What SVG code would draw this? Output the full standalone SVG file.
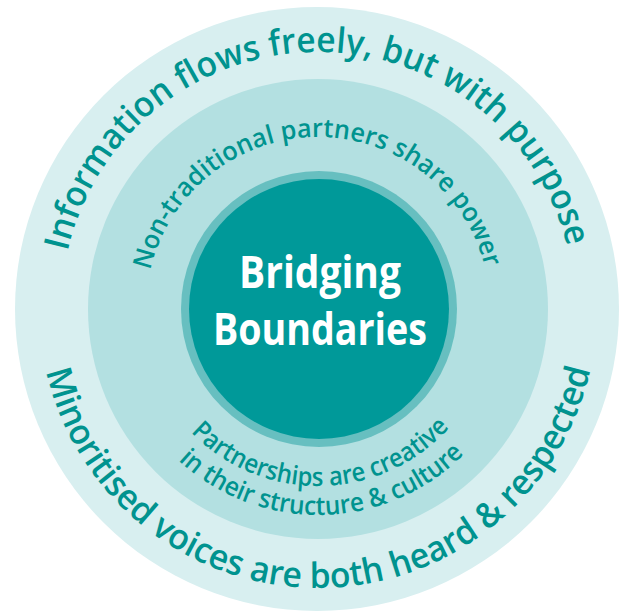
<svg xmlns="http://www.w3.org/2000/svg" width="619" height="612" viewBox="0 0 619 612">
  <style>
    .arc { font-family: "Open Sans", "Noto Sans", sans-serif; font-weight: 600; fill: #00938f; }
    .outer { font-size: 35px; }
    .mid { font-size: 26px; }
    .center { font-family: "Open Sans", "Noto Sans", sans-serif; font-weight: 700; font-size: 45px; fill: #ffffff; text-anchor: middle; }
  </style>
  <defs>
    <path id="pTopOuter" d="M 61 309 A 257 257 0 0 1 575 309" fill="none"/>
    <path id="pTopMid" d="M 146 309 A 172 172 0 0 1 490 309" fill="none"/>
    <path id="pBotOuter" d="M 39 309 A 279 279 0 0 0 597 309" fill="none"/>
    <path id="pBotMid1" d="M 141 309 A 177 177 0 0 0 495 309" fill="none"/>
    <path id="pBotMid2" d="M 112 309 A 206 206 0 0 0 524 309" fill="none"/>
  </defs>
  <g id="outer-ring">
    <circle cx="317" cy="309" r="302" fill="#d8eff0"/>
  </g>
  <g id="middle-ring">
    <circle cx="318" cy="309" r="230" fill="#b3e0e1"/>
  </g>
  <g id="core">
    <circle cx="319" cy="309" r="138" fill="#67bfc0"/>
    <circle cx="319" cy="309" r="130" fill="#009999"/>
    <text class="center" x="320" y="288" textLength="162" lengthAdjust="spacingAndGlyphs">Bridging</text>
    <text class="center" x="320" y="345" textLength="214" lengthAdjust="spacingAndGlyphs">Boundaries</text>
  </g>
  <g id="connectors"></g>
  <g id="label-top-outer">
    <text class="arc outer"><textPath href="#pTopOuter" startOffset="58" textLength="686" lengthAdjust="spacingAndGlyphs">Information flows freely, but with purpose</textPath></text>
  </g>
  <g id="label-top-mid">
    <text class="arc mid"><textPath href="#pTopMid" startOffset="39" textLength="459" lengthAdjust="spacingAndGlyphs">Non-traditional partners share power</textPath></text>
  </g>
  <g id="label-bottom-outer">
    <text class="arc outer"><textPath href="#pBotOuter" startOffset="63" textLength="752" lengthAdjust="spacingAndGlyphs">Minoritised voices are both heard &amp; respected</textPath></text>
  </g>
  <g id="label-bottom-mid">
    <text class="arc mid"><textPath href="#pBotMid1" startOffset="136" textLength="290" lengthAdjust="spacingAndGlyphs">Partnerships are creative</textPath></text>
    <text class="arc mid"><textPath href="#pBotMid2" startOffset="170" textLength="316" lengthAdjust="spacingAndGlyphs">in their structure &amp; culture</textPath></text>
  </g>
</svg>
